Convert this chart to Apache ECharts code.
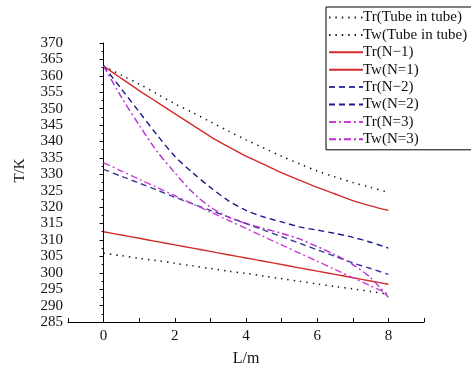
<!DOCTYPE html>
<html>
<head>
<meta charset="utf-8">
<script src="https://cdn.jsdelivr.net/npm/echarts@6/dist/echarts.min.js"></script>
<style>html,body{margin:0;padding:0;background:#fff;}#c{width:471px;height:372px;}</style>
</head>
<body>
<div id="c"></div>
<script>
const L = [0, 0.5, 1, 1.5, 2, 2.5, 3, 3.5, 4, 4.5, 5, 5.5, 6, 6.5, 7, 7.5, 8];
const trTube = [306, 305.2, 304.4, 303.7, 302.9, 302.1, 301.3, 300.5, 299.8, 299, 298.2, 297.4, 296.6, 295.8, 295.1, 294.3, 293.5];
const twTube = [363, 360.2, 357.5, 354.5, 351.5, 348.8, 346, 343.2, 340.5, 338, 335.5, 333.2, 331, 329.2, 327.5, 326, 324.5];
const trN1 = [312.5, 311.5, 310.5, 309.5, 308.5, 307.5, 306.5, 305.5, 304.5, 303.5, 302.5, 301.5, 300.5, 299.5, 298.5, 297.5, 296.5];
const twN1 = [363, 359.2, 355.5, 352, 348.5, 345, 341.5, 338.4, 335.5, 333, 330.5, 328.2, 326, 324, 322, 320.4, 319];
const trN2 = [331.5, 329.4, 327.3, 325.2, 323, 321, 319, 317, 315, 313, 311, 309, 307, 305, 303, 301.3, 299.5];
const twN2 = [363, 356, 349, 342, 335.5, 330.5, 326, 322, 319, 317, 315.5, 314, 313, 312, 310.8, 309.3, 307.5];
const trN3 = [333.5, 331, 328.5, 326, 323.5, 321, 318.5, 316, 313.5, 311, 308.5, 306, 303.5, 301, 298.5, 296, 293.5];
const twN3 = [363, 353.5, 345, 337, 330.5, 324.5, 320, 317, 315, 313.5, 312, 310.3, 308, 305.5, 302.5, 298.5, 292.5];
const seriesNames = ['Tr(Tube in tube)', 'Tw(Tube in tube)', 'Tr(N\u22121)', 'Tw(N=1)', 'Tr(N\u22122)', 'Tw(N=2)', 'Tr(N=3)', 'Tw(N=3)'];
const xTicks = [-1, 9, 1];
const yTicks = [285, 370, 5];

const values = [trTube, twTube, trN1, twN1, trN2, twN2, trN3, twN3];
const styles = [
  {color: '#111111', type: [1.4, 5], width: 1.5},
  {color: '#111111', type: [1.4, 5], width: 1.5},
  {color: '#d42b2b', type: 'solid', width: 1.4},
  {color: '#d42b2b', type: 'solid', width: 1.4},
  {color: '#3a3a9c', type: [6, 4], width: 1.4},
  {color: '#1c1c8c', type: [6, 4], width: 1.4},
  {color: '#cc3fd6', type: [7, 3, 2, 3], width: 1.4},
  {color: '#b52fcf', type: [7, 3, 2, 3], width: 1.4}
];
const FONT = '"Liberation Serif", "Times New Roman", serif';

const chart = echarts.init(document.getElementById('c'), null, {renderer: 'canvas'});
chart.setOption({
  animation: false,
  backgroundColor: '#ffffff',
  textStyle: {fontFamily: FONT},
  grid: {left: 68, right: 47, top: 43, bottom: 45},
  legend: {
    orient: 'vertical',
    left: 326, top: 7,
    data: seriesNames,
    itemWidth: 34, itemHeight: 14, itemGap: 2.4,
    padding: [3, 8, 3, 2],
    borderColor: '#000', borderWidth: 1,
    itemStyle: {opacity: 0},
    textStyle: {fontFamily: FONT, fontSize: 15, color: '#111', padding: [0, 0, 0, -5]}
  },
  xAxis: {
    type: 'value', min: xTicks[0], max: xTicks[1], interval: xTicks[2],
    name: 'L/m', nameLocation: 'middle', nameGap: 29,
    nameTextStyle: {fontFamily: FONT, fontSize: 16, color: '#111'},
    axisLine: {show: true, lineStyle: {color: '#000', width: 1}},
    axisTick: {show: true, inside: true, length: 4, lineStyle: {color: '#000'}},
    axisLabel: {fontFamily: FONT, fontSize: 15, color: '#111', margin: 7,
      formatter: v => (v % 2 === 0 && v >= 0 && v <= 8) ? String(v) : ''},
    splitLine: {show: false}
  },
  yAxis: {
    type: 'value', min: yTicks[0], max: yTicks[1], interval: yTicks[2],
    name: 'T/K', nameLocation: 'middle', nameGap: 40,
    nameTextStyle: {fontFamily: FONT, fontSize: 15, color: '#111', padding: [0, 0, 0, 24]},
    axisLine: {show: true, lineStyle: {color: '#000', width: 1}},
    axisTick: {show: true, inside: false, length: 4, lineStyle: {color: '#000'}},
    minorTick: {show: true, splitNumber: 2, length: 2, lineStyle: {color: '#000'}},
    axisLabel: {fontFamily: FONT, fontSize: 15, color: '#111', margin: 5},
    splitLine: {show: false}
  },
  series: values.map((arr, i) => ({
    name: seriesNames[i],
    type: 'line',
    data: L.map((x, j) => [x, arr[j]]),
    showSymbol: false, symbol: 'none',
    smooth: 0.3,
    lineStyle: styles[i],
    itemStyle: {color: styles[i].color},
    emphasis: {disabled: true}
  }))
});
</script>
</body>
</html>
